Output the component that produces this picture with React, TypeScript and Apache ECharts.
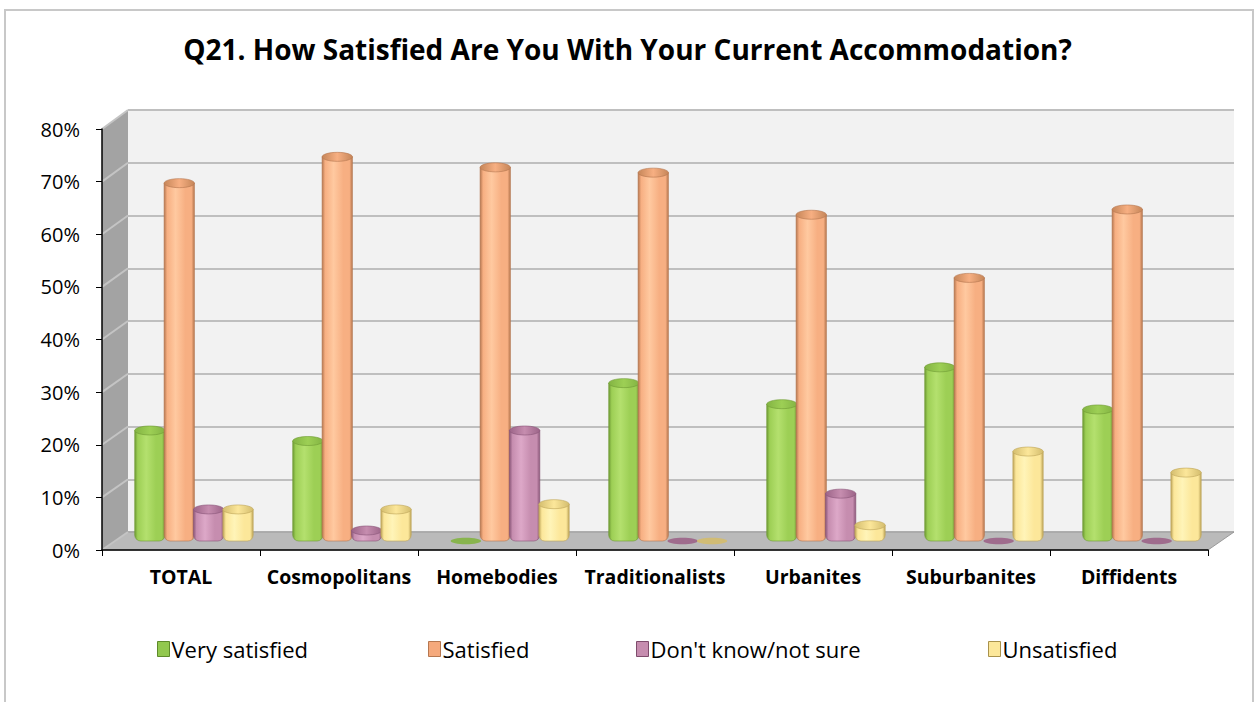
import React, { useEffect, useRef } from "react";
import * as echarts from "echarts";

const categories = ["TOTAL", "Cosmopolitans", "Homebodies", "Traditionalists", "Urbanites", "Suburbanites", "Diffidents"];
const seriesNames = ["Very satisfied", "Satisfied", "Don't know/not sure", "Unsatisfied"];
const verySatisfied = [21, 19, 0, 30, 26, 33, 25];
const satisfied = [68, 73, 71, 70, 62, 50, 63];
const dontKnow = [6, 2, 21, 0, 9, 0, 0];
const unsatisfied = [6, 6, 7, 0, 3, 17, 13];
const yMax = 80;
const yStep = 10;

const palettes = [
  { light: "#B4E06E", mid: "#9DCF55", dark: "#6E9A34", top: "#83B443", legend: "#92C84E", border: "#5E8A2A" },
  { light: "#FFC9A0", mid: "#F7AF82", dark: "#B67750", top: "#C68659", legend: "#F5A97C", border: "#B67750" },
  { light: "#DDA8C8", mid: "#C68DAF", dark: "#8A5678", top: "#9C6488", legend: "#C68DAF", border: "#7E4C6C" },
  { light: "#FFF4B8", mid: "#FCE79A", dark: "#BDA459", top: "#D4BD6E", legend: "#FCE79A", border: "#A9924C" },
];

const FONT = "'Open Sans', 'Noto Sans', sans-serif";

function makeRender(si: number) {
  const pal = palettes[si];
  return (params: any, api: any) => {
    const idx = api.value(0);
    const v = api.value(1);
    const base = api.coord([idx, 0]);
    const top = api.coord([idx, v]);
    const band = api.size([1, 0])[0];
    const step = band * 0.186;
    const w = band * 0.192;
    const dx = band * 0.082;
    const dy = -9;
    const cx = base[0] + dx + (si - 1.5) * step;
    const yb = base[1] + dy;
    const yt = top[1] + dy;
    if (v <= 0) {
      return {
        type: "ellipse",
        shape: { cx, cy: yb, rx: w / 2, ry: 3.2 },
        style: { fill: pal.top, opacity: 0.9 },
      };
    }
    const body = {
      type: "rect",
      shape: { x: cx - w / 2, y: yt, width: w, height: yb - yt, r: [0, 0, 6, 6] },
      style: {
        fill: new echarts.graphic.LinearGradient(0, 0, 1, 0, [
          { offset: 0, color: pal.dark },
          { offset: 0.1, color: pal.mid },
          { offset: 0.38, color: pal.light },
          { offset: 0.7, color: pal.mid },
          { offset: 0.9, color: pal.mid },
          { offset: 1, color: pal.dark },
        ]),
        stroke: pal.dark,
        lineWidth: 0.6,
      },
    };
    const cap = {
      type: "ellipse",
      shape: { cx, cy: yt, rx: w / 2, ry: 4.5 },
      style: {
        fill: new echarts.graphic.LinearGradient(0, 0, 1, 0, [
          { offset: 0, color: pal.top },
          { offset: 0.5, color: pal.mid },
          { offset: 1, color: pal.top },
        ]),
        stroke: pal.dark,
        lineWidth: 0.6,
      },
    };
    return { type: "group", children: [body, cap] };
  };
}

export default function App() {
  const ref = useRef<HTMLDivElement>(null);
  useEffect(() => {
    if (!ref.current) return;
    const chart = echarts.init(ref.current, null, { renderer: "svg" });
    const allData = [verySatisfied, satisfied, dontKnow, unsatisfied];

    const frontLeft = 102, frontTop = 129, frontW = 1106, frontH = 421;
    const backLeft = 128, backTop = 110, backW = 1106, backH = 422;

    const sideLines: any[] = [];
    for (let k = 0; k <= yMax / yStep; k++) {
      const yf = frontTop + frontH - (k * frontH) / (yMax / yStep);
      const ybk = backTop + backH - (k * backH) / (yMax / yStep);
      sideLines.push({
        type: "line",
        z: 1,
        shape: { x1: frontLeft, y1: yf, x2: backLeft, y2: ybk },
        style: { stroke: "#C4C4C4", lineWidth: 2 },
      });
    }

    const legendLefts = [152, 423, 631, 983];

    chart.setOption({
      animation: false,
      backgroundColor: "#FFFFFF",
      title: {
        text: "Q21. How Satisfied Are You With Your Current Accommodation?",
        left: "center",
        top: 30,
        textStyle: { fontFamily: FONT, fontSize: 28, fontWeight: "bold", color: "#000000" },
      },
      legend: seriesNames.map((n, i) => ({
        data: [n],
        left: legendLefts[i],
        top: 633,
        icon: "rect",
        itemWidth: 12,
        itemHeight: 15,
        itemGap: 4,
        textStyle: { fontFamily: FONT, fontSize: 22, color: "#000000", padding: [0, 0, 0, -3] },
        itemStyle: { borderColor: palettes[i].border, borderWidth: 1 },
      })),
      grid: [
        { left: backLeft, top: backTop, width: backW, height: backH, show: true, backgroundColor: "#F2F2F2", borderWidth: 0 },
        { left: frontLeft, top: frontTop, width: frontW, height: frontH, show: false },
      ],
      xAxis: [
        { type: "category", gridIndex: 0, data: categories, show: false },
        {
          type: "category",
          gridIndex: 1,
          data: categories,
          z: 10,
          axisLine: { show: true, lineStyle: { color: "#000000", width: 1.5 } },
          axisTick: { show: true, alignWithLabel: false, length: 6, lineStyle: { color: "#000000" } },
          axisLabel: { fontFamily: FONT, fontSize: 19.5, fontWeight: "bold", color: "#000000", margin: 16, interval: 0 },
          splitLine: { show: false },
        },
      ],
      yAxis: [
        {
          type: "value",
          gridIndex: 0,
          min: 0,
          max: yMax,
          interval: yStep,
          axisLine: { show: false },
          axisTick: { show: false },
          axisLabel: { show: false },
          splitLine: { show: true, lineStyle: { color: "#BFBFBF", width: 2 } },
        },
        {
          type: "value",
          gridIndex: 1,
          min: 0,
          max: yMax,
          interval: yStep,
          z: 10,
          axisLine: { show: true, lineStyle: { color: "#000000", width: 1.5 } },
          axisTick: { show: true, length: 6, lineStyle: { color: "#000000" } },
          axisLabel: { formatter: "{value}%", fontFamily: FONT, fontSize: 20, color: "#000000", margin: 22 },
          splitLine: { show: false },
        },
      ],
      graphic: [
        {
          type: "rect",
          z: 0,
          shape: { x: 5, y: 10, width: 1248, height: 700 },
          style: { fill: "none", stroke: "#C8C8C8", lineWidth: 2 },
        },
        {
          type: "polygon",
          z: 1,
          shape: { points: [[frontLeft, frontTop + frontH], [frontLeft, frontTop], [backLeft, backTop], [backLeft, backTop + backH]] },
          style: { fill: "#A3A3A3" },
        },
        {
          type: "polygon",
          z: 1,
          shape: {
            points: [
              [frontLeft, frontTop + frontH],
              [backLeft, backTop + backH],
              [backLeft + backW, backTop + backH],
              [frontLeft + frontW, frontTop + frontH],
            ],
          },
          style: { fill: "#BABABA", stroke: "#9A9A9A", lineWidth: 1 },
        },
        ...sideLines,
      ],
      series: allData.map((d, si) => ({
        type: "custom",
        name: seriesNames[si],
        xAxisIndex: 1,
        yAxisIndex: 1,
        z: 5,
        itemStyle: { color: palettes[si].legend },
        renderItem: makeRender(si),
        encode: { x: 0, y: 1 },
        data: d.map((v, i) => [i, v]),
      })),
    });
    return () => chart.dispose();
  }, []);
  return <div ref={ref} style={{ position: "absolute", left: 0, top: 0, width: 1255, height: 702 }} />;
}
